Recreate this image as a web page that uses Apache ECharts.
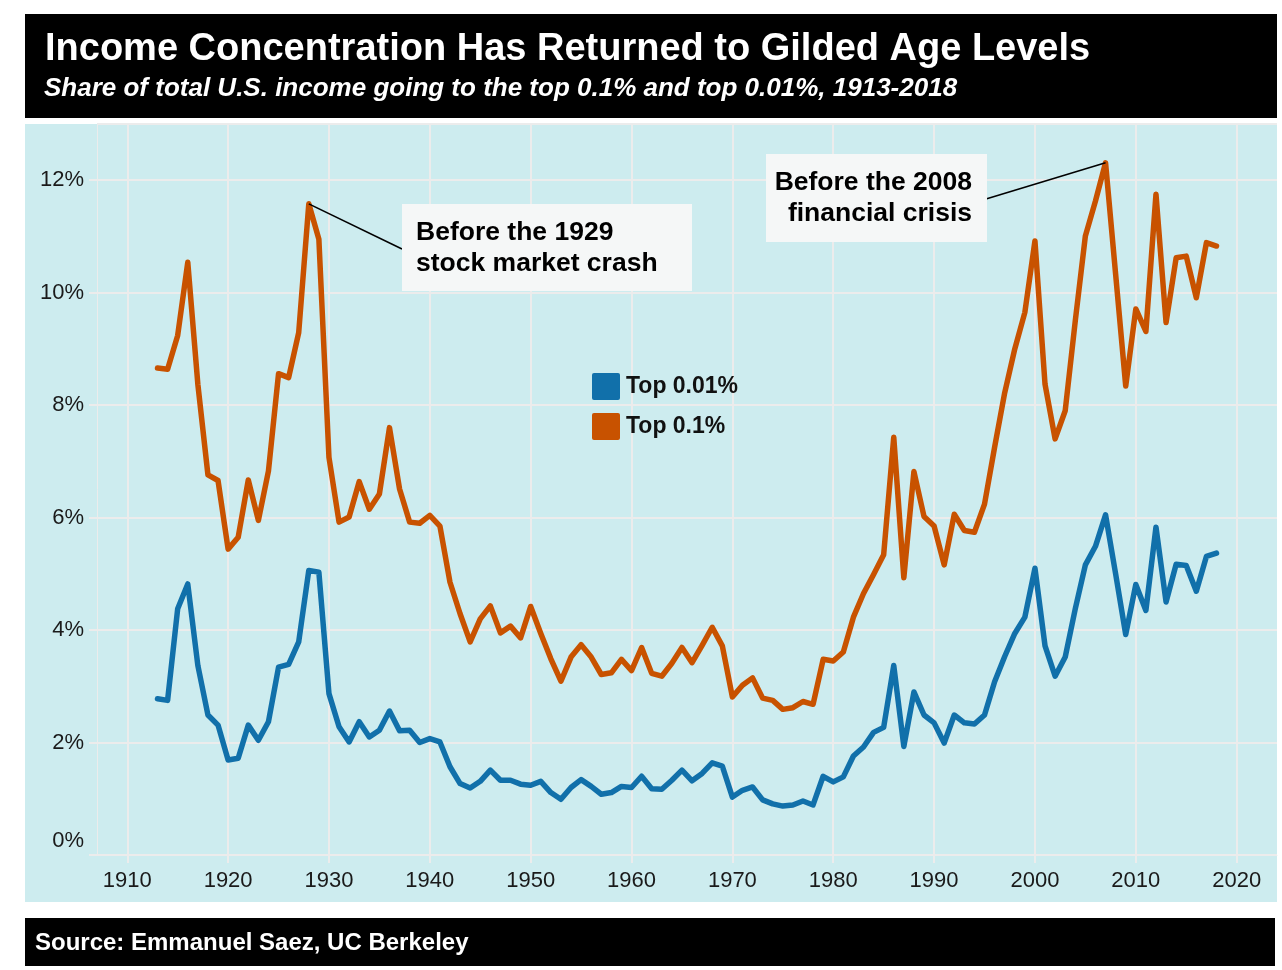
<!DOCTYPE html>
<html>
<head>
<meta charset="utf-8">
<title>Income Concentration</title>
<script src="https://cdn.jsdelivr.net/npm/echarts@6/dist/echarts.min.js"></script>
<style>
  html, body { margin: 0; padding: 0; background: #fff; }
  #chart { width: 1282px; height: 970px; }
</style>
</head>
<body>
<div id="chart"></div>
<script>
// Saez top income shares (percent of total income)
const years = [
  1913, 1914, 1915, 1916, 1917, 1918, 1919, 1920, 1921, 1922,
  1923, 1924, 1925, 1926, 1927, 1928, 1929, 1930, 1931, 1932,
  1933, 1934, 1935, 1936, 1937, 1938, 1939, 1940, 1941, 1942,
  1943, 1944, 1945, 1946, 1947, 1948, 1949, 1950, 1951, 1952,
  1953, 1954, 1955, 1956, 1957, 1958, 1959, 1960, 1961, 1962,
  1963, 1964, 1965, 1966, 1967, 1968, 1969, 1970, 1971, 1972,
  1973, 1974, 1975, 1976, 1977, 1978, 1979, 1980, 1981, 1982,
  1983, 1984, 1985, 1986, 1987, 1988, 1989, 1990, 1991, 1992,
  1993, 1994, 1995, 1996, 1997, 1998, 1999, 2000, 2001, 2002,
  2003, 2004, 2005, 2006, 2007, 2008, 2009, 2010, 2011, 2012,
  2013, 2014, 2015, 2016, 2017, 2018
];

const top01 = [
  8.66, 8.64, 9.24, 10.54, 8.37, 6.76, 6.66, 5.44, 5.65, 6.67,
  5.95, 6.83, 8.56, 8.49, 9.29, 11.58, 10.95, 7.07, 5.92, 6.01,
  6.64, 6.15, 6.42, 7.60, 6.51, 5.92, 5.90, 6.04, 5.85, 4.85,
  4.29, 3.79, 4.20, 4.43, 3.95, 4.07, 3.86, 4.42, 3.94, 3.49,
  3.09, 3.52, 3.74, 3.52, 3.21, 3.24, 3.48, 3.28, 3.69, 3.23,
  3.18, 3.41, 3.69, 3.42, 3.73, 4.05, 3.72, 2.81, 3.02, 3.15,
  2.79, 2.75, 2.59, 2.62, 2.73, 2.68, 3.48, 3.45, 3.61, 4.23,
  4.65, 4.99, 5.34, 7.43, 4.93, 6.82, 6.02, 5.85, 5.16, 6.06,
  5.77, 5.74, 6.24, 7.25, 8.22, 9.00, 9.65, 10.92, 8.37, 7.40,
  7.90, 9.50, 11.01, 11.63, 12.31, 10.33, 8.34, 9.71, 9.31, 11.75,
  9.47, 10.62, 10.65, 9.91, 10.89, 10.83
];

const top001 = [
  2.78, 2.75, 4.38, 4.82, 3.37, 2.49, 2.31, 1.69, 1.72, 2.31,
  2.04, 2.37, 3.34, 3.39, 3.79, 5.06, 5.03, 2.87, 2.28, 2.01,
  2.37, 2.10, 2.22, 2.56, 2.21, 2.22, 2.00, 2.07, 2.01, 1.57,
  1.27, 1.19, 1.31, 1.51, 1.33, 1.33, 1.26, 1.24, 1.31, 1.11,
  0.99, 1.20, 1.34, 1.22, 1.08, 1.11, 1.22, 1.20, 1.40, 1.18,
  1.17, 1.33, 1.51, 1.32, 1.45, 1.64, 1.58, 1.03, 1.15, 1.21,
  0.98, 0.91, 0.87, 0.89, 0.96, 0.89, 1.40, 1.30, 1.39, 1.76,
  1.92, 2.18, 2.27, 3.37, 1.93, 2.90, 2.49, 2.35, 1.99, 2.49,
  2.35, 2.33, 2.49, 3.08, 3.53, 3.94, 4.23, 5.10, 3.72, 3.18,
  3.52, 4.38, 5.16, 5.49, 6.05, 5.00, 3.92, 4.81, 4.35, 5.83,
  4.50, 5.17, 5.15, 4.69, 5.31, 5.37
];

const xTicks = [1910, 1920, 1930, 1940, 1950, 1960, 1970, 1980, 1990, 2000, 2010, 2020];
const seriesNames = ['Top 0.01%', 'Top 0.1%'];
const colors = ['#1170aa', '#c85200'];

const titleText = 'Income Concentration Has Returned to Gilded Age Levels';
const subtitleText = 'Share of total U.S. income going to the top 0.1% and top 0.01%, 1913-2018';
const sourceText = 'Source: Emmanuel Saez, UC Berkeley';
const note1929 = 'Before the 1929\nstock market crash';
const note2008 = 'Before the 2008\nfinancial crisis';

const FONT = '"Liberation Sans", Arial, Helvetica, sans-serif';
const GRID = '#ececec';

const i1928 = years.indexOf(1928);
const i2007 = years.indexOf(2007);

const chart = echarts.init(document.getElementById('chart'));

const pairs = (vals) => years.map((y, i) => [y, vals[i]]);

const option = {
  backgroundColor: '#ffffff',
  animation: false,
  textStyle: { fontFamily: FONT },
  grid: { left: 97, right: 5, top: 124, bottom: 115 },
  legend: {
    data: seriesNames,
    orient: 'vertical',
    left: 587,
    top: 368,
    // square swatch with slightly rounded corners
    icon: 'path://M2,0 L26,0 Q28,0 28,2 L28,25 Q28,27 26,27 L2,27 Q0,27 0,25 L0,2 Q0,0 2,0 Z',
    itemWidth: 28,
    itemHeight: 27,
    itemGap: 13,
    textStyle: { fontSize: 23, fontWeight: 'bold', color: '#111', fontFamily: FONT, padding: [0, 0, 0, 1] }
  },
  xAxis: {
    type: 'value',
    min: 1907,
    max: 2024,
    axisLine: { show: true, lineStyle: { color: GRID, width: 1 } },
    axisTick: { show: true, length: 8, lineStyle: { color: GRID, width: 2 }, customValues: xTicks },
    axisLabel: { customValues: xTicks, fontSize: 22, color: '#1a1a1a', margin: 15, formatter: v => String(v) },
    splitLine: { show: true, lineStyle: { color: GRID, width: 2 } }
  },
  yAxis: {
    type: 'value',
    min: 0,
    max: 13,
    interval: 2,
    axisLine: { show: true, lineStyle: { color: GRID, width: 1 } },
    axisTick: { show: true, length: 8, lineStyle: { color: GRID, width: 2 } },
    axisLabel: {
      fontSize: 22,
      color: '#1a1a1a',
      margin: 13,
      showMaxLabel: false,
      formatter: v => (v % 2 ? '' : (v === 0 ? '{z|0%}' : v + '%')),
      rich: { z: { fontSize: 22, color: '#1a1a1a', padding: [0, 0, 28, 0] } }
    },
    splitLine: { show: true, lineStyle: { color: GRID, width: 2 } }
  },
  series: [
    {
      name: seriesNames[0],
      type: 'line',
      data: pairs(top001),
      showSymbol: false,
      color: colors[0],
      lineStyle: { width: 5.5, color: colors[0], cap: 'round', join: 'round' },
      z: 3
    },
    {
      name: seriesNames[1],
      type: 'line',
      data: pairs(top01),
      showSymbol: false,
      color: colors[1],
      lineStyle: { width: 5.5, color: colors[1], cap: 'round', join: 'round' },
      z: 3,
      markLine: {
        silent: true,
        symbol: ['none', 'none'],
        label: { show: false },
        lineStyle: { color: '#000', width: 1.6, type: 'solid' },
        z: 5,
        data: [
          [{ coord: [years[i1928], top01[i1928]] }, { x: 402, y: 249 }],
          [{ x: 986, y: 199 }, { coord: [years[i2007], top01[i2007]] }]
        ]
      }
    }
  ],
  graphic: [
    // panel behind the plot
    { type: 'rect', z: -10, shape: { x: 25, y: 124, width: 1252, height: 778 }, style: { fill: '#cdecef' }, silent: true },
    // header
    { type: 'rect', z: 1, shape: { x: 25, y: 14, width: 1252, height: 104 }, style: { fill: '#000' }, silent: true },
    { type: 'text', z: 2, x: 45, y: 50, style: { text: titleText, fill: '#fff', font: 'bold 38px ' + FONT, verticalAlign: 'middle' } },
    { type: 'text', z: 2, x: 44, y: 89, style: { text: subtitleText, fill: '#fff', font: 'italic bold 26px ' + FONT, verticalAlign: 'middle' } },
    // footer
    { type: 'rect', z: 1, shape: { x: 25, y: 918, width: 1250, height: 48 }, style: { fill: '#000' }, silent: true },
    { type: 'text', z: 2, x: 35, y: 943, style: { text: sourceText, fill: '#fff', font: 'bold 24px ' + FONT, verticalAlign: 'middle' } },
    // annotation boxes
    { type: 'rect', z: 10, shape: { x: 402, y: 204, width: 290, height: 87 }, style: { fill: '#f5f7f7' }, silent: true },
    { type: 'text', z: 11, x: 416, y: 248, style: { text: note1929, fill: '#000', font: 'bold 26.5px ' + FONT, lineHeight: 31, verticalAlign: 'middle', align: 'left' } },
    { type: 'rect', z: 10, shape: { x: 766, y: 154, width: 221, height: 88 }, style: { fill: '#f5f7f7' }, silent: true },
    { type: 'text', z: 11, x: 972, y: 198, style: { text: note2008, fill: '#000', font: 'bold 26.5px ' + FONT, lineHeight: 31, verticalAlign: 'middle', align: 'right' } }
  ]
};

chart.setOption(option);

window.addEventListener('resize', () => chart.resize());
</script>
</body>
</html>
